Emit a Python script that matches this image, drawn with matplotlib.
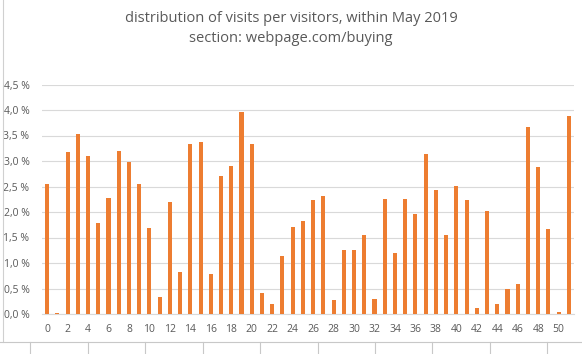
import numpy as np
import matplotlib
matplotlib.use("Agg")
import matplotlib.pyplot as plt
from matplotlib.ticker import FuncFormatter, MultipleLocator

# Data (share of visitors, %)
visits = list(range(52))
share = [2.55, 0.02, 3.17, 3.52, 3.09, 1.78, 2.28, 3.20, 2.98, 2.55,
         1.68, 0.33, 2.19, 0.82, 3.34, 3.37, 0.79, 2.70, 2.91, 3.97,
         3.34, 0.41, 0.20, 1.13, 1.70, 1.82, 2.23, 2.31, 0.28, 1.26,
         1.26, 1.54, 0.30, 2.25, 1.20, 2.26, 1.96, 3.13, 2.43, 1.54,
         2.51, 2.23, 0.12, 2.01, 0.19, 0.50, 0.58, 3.66, 2.89, 1.66,
         0.04, 3.88]
title = "distribution of visits per visitors, within May 2019\nsection: webpage.com/buying"

plt.rcParams['font.family'] = ['Open Sans', 'DejaVu Sans']
grey_txt = '#595959'
grid_col = '#D9D9D9'

fig = plt.figure(figsize=(5.82, 3.54), dpi=100)
ax = fig.add_axes([42 / 582, 1 - 314 / 354, 532 / 582, 229.5 / 354])

ax.bar(visits, share, width=0.4, color='#ED7D31', zorder=3)

ax.set_xlim(-0.5, 51.5)
ax.set_ylim(0, 4.5)
ax.yaxis.set_major_locator(MultipleLocator(0.5))
ax.yaxis.set_major_formatter(FuncFormatter(lambda v, p: f"{v:.1f} %".replace('.', ',')))
ax.set_xticks(visits[::2])
ax.tick_params(axis='both', length=0, labelsize=7.5, labelcolor=grey_txt)
ax.tick_params(axis='x', pad=7)
ax.tick_params(axis='y', pad=9)
ax.grid(axis='y', color=grid_col, linewidth=0.8, zorder=0)
for s in ['top', 'right', 'left']:
    ax.spines[s].set_visible(False)
ax.spines['bottom'].set_color(grid_col)

fig.text(0.5, 1 - 28.5 / 354, title, ha='center', va='center',
         fontsize=10.5, color=grey_txt, linespacing=1.5)

# chart border and spreadsheet cell borders under the chart
fig.add_artist(plt.Line2D([3 / 582] * 2, [1 - 342 / 354, 1], color='#D0D0D0', lw=0.8))
fig.add_artist(plt.Line2D([0, 1], [1 - 342 / 354] * 2, color='#C8C8C8', lw=0.8))
for x in [30, 88, 145, 203, 260, 318, 375, 432, 490, 547]:
    fig.add_artist(plt.Line2D([x / 582] * 2, [0, 1 - 342 / 354], color='#C8C8C8', lw=0.8))

fig.savefig("out.png", dpi=100)
